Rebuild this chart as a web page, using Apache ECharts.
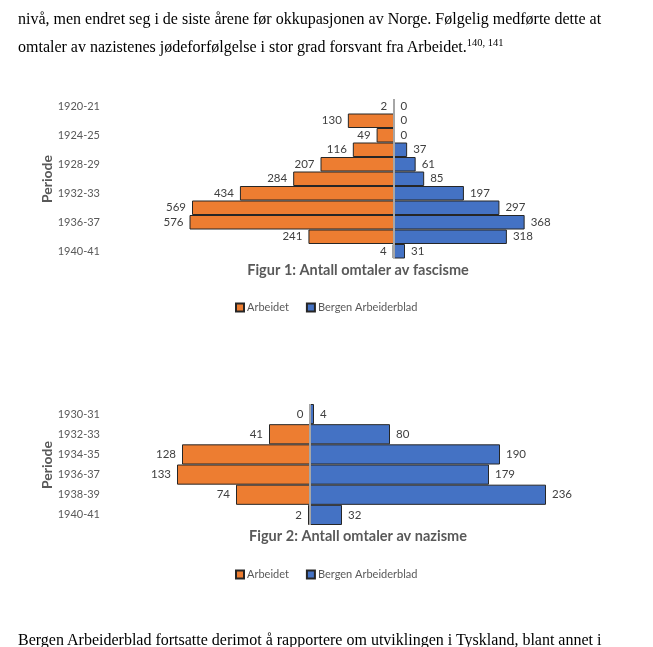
<!DOCTYPE html>
<html>
<head>
<meta charset="utf-8">
<script src="https://cdn.jsdelivr.net/npm/echarts@6/dist/echarts.min.js"></script>
<style>
  html, body { margin: 0; padding: 0; background: #fff; width: 653px; height: 647px; overflow: hidden; }
  #chart { position: absolute; left: 0; top: 0; width: 653px; height: 647px; }
  .para { position: absolute; left: 18px; font-family: "Liberation Serif", "Times New Roman", serif; font-size: 16px; color: #000; white-space: nowrap; z-index: 2; }
  sup { font-size: 10.5px; vertical-align: 6px; line-height: 0; }
</style>
</head>
<body>
<div id="chart"></div>
<div class="para" style="top:10px;">nivå, men endret seg i de siste årene før okkupasjonen av Norge. Følgelig medførte dette at</div>
<div class="para" style="top:38px;">omtaler av nazistenes jødeforfølgelse i stor grad forsvant fra Arbeidet.<sup>140, 141</sup></div>
<div class="para" style="top:631px;">Bergen Arbeiderblad fortsatte derimot å rapportere om utviklingen i Tyskland, blant annet i</div>
<script>
const periods1 = ['1920-21','1922-23','1924-25','1926-27','1928-29','1930-31','1932-33','1934-35','1936-37','1938-39','1940-41'];
const arbeidet1 = [2,130,49,116,207,284,434,569,576,241,4];
const bergen1 = [0,0,0,37,61,85,197,297,368,318,31];

const periods2 = ['1930-31','1932-33','1934-35','1936-37','1938-39','1940-41'];
const arbeidet2 = [0,41,128,133,74,2];
const bergen2 = [4,80,190,179,236,32];

const title1 = 'Figur 1: Antall omtaler av fascisme';
const title2 = 'Figur 2: Antall omtaler av nazisme';
const axisName = 'Periode';
const seriesNames = ['Arbeidet','Bergen Arbeiderblad'];

const ORANGE = '#ED7D31', BLUE = '#4472C4', EDGE = '#262626', TXT = '#595959', LBL = '#404040';
const FONT = 'Lato, "Open Sans", sans-serif';

const chart = echarts.init(document.getElementById('chart'), null, {renderer: 'canvas'});

function yAx(idx, cats, interval) {
  return {
    type: 'category', gridIndex: idx, data: cats, inverse: true,
    axisLine: {show: false}, axisTick: {show: false},
    axisLabel: {interval: interval, color: TXT, fontSize: 11, fontFamily: FONT, margin: 10}
  };
}
function xAx(idx, min, max) {
  return {
    type: 'value', gridIndex: idx, min: min, max: max,
    axisLine: {show: false}, axisTick: {show: false}, axisLabel: {show: false}, splitLine: {show: false}
  };
}
function barSeries(idx, name, vals, color, neg, withLine) {
  const s = {
    type: 'bar', name: name, xAxisIndex: idx, yAxisIndex: idx,
    data: vals.map(v => neg ? -v : v),
    barGap: '-100%', barCategoryGap: '0%',
    itemStyle: {color: color, borderColor: EDGE, borderWidth: 1},
    label: {
      show: true, position: neg ? 'left' : 'right', distance: 6,
      color: LBL, fontSize: 11.5, fontFamily: FONT,
      formatter: p => String(Math.abs(p.value))
    },
    emphasis: {disabled: true}
  };
  if (withLine) {
    s.markLine = {
      silent: true, symbol: 'none',
      lineStyle: {color: '#A6A6A6', width: 2, type: 'solid'},
      label: {show: false},
      data: [{xAxis: 0}]
    };
  }
  return s;
}
function legend(idx, top) {
  return {
    left: 230, top: top, itemWidth: 8, itemHeight: 8, itemGap: 17,
    icon: 'rect', data: seriesNames, selectedMode: false,
    textStyle: {color: TXT, fontSize: 11, fontFamily: FONT, padding: [0, 0, 0, -2]}
  };
}
function vText(x, y) {
  return {type: 'text', x: x, y: y, rotation: Math.PI / 2,
    style: {text: axisName, fill: TXT, font: 'bold 14px ' + FONT, textAlign: 'center', textVerticalAlign: 'middle'}};
}

chart.setOption({
  animation: false,
  backgroundColor: '#fff',
  grid: [
    {left: 110, top: 99, width: 497, height: 159.5},
    {left: 110, top: 404, width: 500, height: 121}
  ],
  xAxis: [xAx(0, -800, 600), xAx(1, -200, 300)],
  yAxis: [yAx(0, periods1, 1), yAx(1, periods2, 0)],
  legend: [legend(0, 297), legend(1, 564)],
  series: [
    barSeries(0, seriesNames[0], arbeidet1, ORANGE, true, false),
    barSeries(0, seriesNames[1], bergen1, BLUE, false, true),
    barSeries(1, seriesNames[0], arbeidet2, ORANGE, true, false),
    barSeries(1, seriesNames[1], bergen2, BLUE, false, true)
  ],
  graphic: [
    vText(47, 179),
    vText(47, 465),
    {type: 'text', x: 358, y: 270, style: {text: title1, fill: TXT, font: 'bold 14.5px ' + FONT, textAlign: 'center', textVerticalAlign: 'middle'}},
    {type: 'text', x: 358, y: 536, style: {text: title2, fill: TXT, font: 'bold 14.5px ' + FONT, textAlign: 'center', textVerticalAlign: 'middle'}}
  ]
});
</script>
</body>
</html>
